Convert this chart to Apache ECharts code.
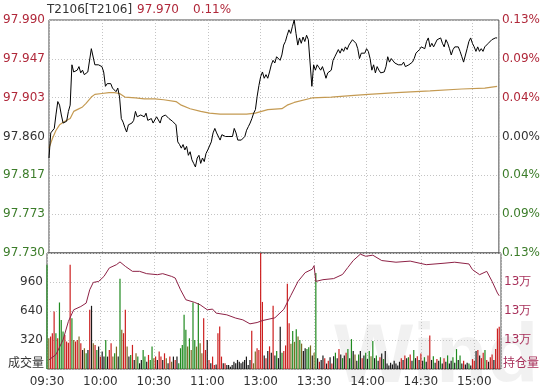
<!DOCTYPE html>
<html><head><meta charset="utf-8">
<script src="https://cdn.jsdelivr.net/npm/echarts@6/dist/echarts.min.js"></script>
<style>html,body{margin:0;padding:0;background:#fff}#c{width:543px;height:389px}</style>
</head><body><div id="c"></div>
<script>
// ---- data ----
const title = 'T2106[T2106]';
const lastPrice = '97.970';
const lastPct = '0.11%';
const timeTickLabels = ['09:30','10:00','10:30','11:00','13:00','13:30','14:00','14:30','15:00'];
const priceTickLabels = ['97.730','97.773','97.817','97.860','97.903','97.947','97.990'];
const pctTickLabels = ['0.13%','0.09%','0.04%','0.00%','0.04%','0.09%','0.13%'];
const volTickLabels = ['', '320', '640', '960', ''];
const oiTickLabels = ['', '13万', '13万', '13万', ''];

// minute price (index = trading minute from 09:30)
const prices = [
97.836,97.864,97.866,97.869,97.885,97.899,97.895,97.884,97.875,97.876,
97.877,97.888,97.895,97.940,97.932,97.934,97.934,97.938,97.931,97.934,
97.929,97.927,97.932,97.934,97.958,97.958,97.940,97.940,97.940,97.940,
97.938,97.932,97.916,97.919,97.917,97.919,97.914,97.916,97.910,97.914,
97.904,97.880,97.876,97.870,97.865,97.873,97.874,97.875,97.878,97.888,
97.882,97.883,97.884,97.884,97.882,97.886,97.878,97.879,97.880,97.875,
97.876,97.882,97.880,97.875,97.882,97.884,97.884,97.884,97.880,97.882,
97.877,97.878,97.873,97.854,97.851,97.847,97.851,97.845,97.849,97.839,
97.843,97.834,97.830,97.826,97.836,97.839,97.830,97.836,97.832,97.841,
97.845,97.843,97.854,97.864,97.869,97.864,97.865,97.856,97.862,97.860,
97.860,97.860,97.860,97.860,97.860,97.869,97.864,97.856,97.858,97.856,
97.856,97.860,97.867,97.871,97.875,97.880,97.886,97.890,97.905,97.917,
97.927,97.932,97.925,97.929,97.925,97.932,97.940,97.945,97.942,97.949,
97.947,97.945,97.951,97.962,97.966,97.973,97.979,97.975,97.983,97.990,
97.975,97.962,97.970,97.964,97.971,97.966,97.973,97.968,97.969,97.916,
97.940,97.934,97.940,97.937,97.934,97.938,97.932,97.925,97.931,97.929,
97.934,97.945,97.949,97.951,97.957,97.953,97.958,97.955,97.960,97.957,
97.962,97.960,97.968,97.970,97.964,97.958,97.947,97.953,97.955,97.953,
97.958,97.955,97.947,97.934,97.940,97.931,97.938,97.934,97.931,97.929,
97.932,97.938,97.949,97.943,97.947,97.949,97.942,97.940,97.940,97.940,
97.940,97.943,97.938,97.936,97.940,97.942,97.943,97.947,97.953,97.951,
97.957,97.960,97.962,97.958,97.966,97.970,97.960,97.964,97.960,97.960,
97.968,97.970,97.970,97.964,97.960,97.968,97.964,97.958,97.951,97.957,
97.960,97.960,97.960,97.955,97.949,97.943,97.945,97.958,97.966,97.970,
97.964,97.960,97.955,97.960,97.955,97.958,97.955,97.960,97.962,97.964,
97.966,97.968,97.969,97.970,97.970
];

// average price line
const avgMinutes = [0,2,4,6,9,12,14,16,19,21,24,26,30,34,37,40,43,49,54,60,65,72,75,80,86,91,97,104,112,117,124,132,135,139,149,160,173,181,197,216,234,247,254];
const avgPrices  = [97.847,97.858,97.867,97.873,97.877,97.880,97.888,97.890,97.893,97.897,97.904,97.907,97.908,97.909,97.909,97.908,97.904,97.903,97.902,97.902,97.901,97.899,97.895,97.891,97.888,97.886,97.885,97.885,97.885,97.886,97.890,97.891,97.895,97.898,97.903,97.904,97.906,97.907,97.909,97.911,97.913,97.914,97.916];

// minute volume (成交量) and bar colour code: R up, G down, D flat, O mixed
const volumes = [
1150,340,358,395,634,395,339,734,542,413, 376,303,290,1150,561,321,303,321,358,284,
210,229,173,210,653,697,284,266,210,247, 137,192,137,321,137,210,284,137,173,247,
137,996,432,395,653,247,137,155,266,100, 173,137,63,100,210,137,81,155,100,247,
118,137,100,192,137,100,173,118,63,137, 81,137,100,137,63,229,266,598,432,247,
339,210,734,321,247,727,284,173,561,210, 321,100,63,137,44,50,395,469,137,63,
63,44,44,26,44,81,63,100,81,63, 81,100,137,44,100,421,63,192,229,210,
1400,740,150,120,200,250,180,697,150,200, 120,466,180,200,260,940,505,280,420,300,
440,360,320,280,200,230,220,240,260,150, 180,1060,120,80,100,150,120,60,90,130,
60,140,180,120,220,160,120,150,180,220, 120,330,200,160,90,160,200,120,150,180,
110,200,140,310,120,150,90,130,170,110, 200,60,40,70,50,90,60,40,80,120,
100,150,120,130,160,90,210,120,140,100, 170,90,130,80,150,370,100,140,70,110,
90,130,60,120,80,150,60,90,130,70, 220,100,150,60,90,50,70,60,40,110,
90,200,210,150,120,180,210,100,80,130, 160,100,220,447,465
];
const volColors = (
'GORRRGRGGG'+'RRRRGORROR'+'DOGDRDORGD'+'RDDGDRROGO'+
'DGORRODGRD'+'OGDDGGDRGG'+'ORDRRDRODR'+'ODRDGGGGGO'+
'GOGGOGOORR'+'DRDRRDRRRD'+'RDDDDDDDDD'+'DDDDDROORR'+
'RRDRDRDRDG'+'DDGRRRROGO'+'GOGODDGGOD'+'OGDRDDRDRD'+
'RDGDRDGDRG'+'DGDODGDRDG'+'DGOGDGDRDG'+'DDDDDDDDDR'+
'DRDGRDGDRD'+'RDGDRRDGDR'+'DGDRDGDDGD'+'GDGDRDDGDR'+
'RDRDRRGRDR'+'RDRRR').split('');

// open interest (持仓量)
const oiMinutes = [1,5,9,12,15,19,22,24,26,29,32,35,39,41,44,48,52,56,62,65,70,72,75,78,83,86,90,93,95,101,106,110,114,118,121,128,133,137,141,145,149,150,151,155,161,166,169,172,176,179,183,188,196,204,213,223,229,237,239,243,247,250,253,254];
const oiValues  = [131125,131198,131401,131655,131817,131862,131909,132093,132194,132208,132277,132394,132439,132477,132416,132347,132347,132315,132301,132315,132277,132255,132093,131955,131918,131886,131817,131826,131771,131747,131702,131678,131623,131641,131668,131706,131823,132016,132208,132329,132377,132425,132208,132232,132247,132304,132401,132496,132584,132555,132570,132496,132473,132488,132439,132459,132473,132449,132370,132301,132347,132208,132048,132010];

// ---- chart ----
const FONT = '"DejaVu Sans"';
const RED = '#b0283a', GREEN = '#3c7d2a', GRAY = '#333', MAROON = '#a8305a';
const barColor = {R:'#cc1f1f', G:'#1f8a1f', D:'#1a1a1a', O:'#7d6a24'};
const chart = echarts.init(document.getElementById('c'), null, {renderer:'canvas'});

const dotted = {show:true, lineStyle:{color:'#c4c4c4', type:[1,2], width:1}};
const baseX = {
  type:'value', min:0, max:255, interval:30,
  axisLine:{show:false}, axisTick:{show:false}, splitLine:dotted
};
const labelColor = (v)=> { const k = priceTickLabels.indexOf(Number(v).toFixed(3)); return k>3?RED:(k===3?GRAY:GREEN); };

chart.setOption({
  animation:false,
  backgroundColor:'#fff',
  textStyle:{fontFamily:FONT},
  grid:[
    {left:47, right:42, top:20, height:233, show:true, borderColor:'#4a4a4a', borderWidth:1, backgroundColor:'transparent'},
    {left:47, right:42, top:253, height:116, show:true, borderColor:'#4a4a4a', borderWidth:1, backgroundColor:'transparent'}
  ],
  xAxis:[
    Object.assign({}, baseX, {gridIndex:0, axisLabel:{show:false}}),
    Object.assign({}, baseX, {gridIndex:1, axisLabel:{
      show:true, color:GRAY, fontSize:12, fontFamily:FONT, margin:7, showMaxLabel:false,
      formatter:(v)=> (v % 30 === 0 && timeTickLabels[v/30]) ? timeTickLabels[v/30] : ''
    }})
  ],
  yAxis:[
    {type:'value', gridIndex:0, position:'left', min:97.730, max:97.990, interval:0.26/6,
     axisLine:{show:false}, axisTick:{show:false}, splitLine:dotted,
     axisLabel:{fontSize:12, fontFamily:FONT, margin:4, showMinLabel:true, showMaxLabel:true,
       formatter:(v,i)=> priceTickLabels[i], color:labelColor}},
    {type:'value', gridIndex:0, position:'right', min:97.730, max:97.990, interval:0.26/6,
     axisLine:{show:false}, axisTick:{show:false}, splitLine:{show:false},
     axisLabel:{fontSize:12, fontFamily:FONT, margin:3, showMinLabel:true, showMaxLabel:true,
       formatter:(v,i)=> pctTickLabels[i], color:labelColor}},
    {type:'value', gridIndex:1, position:'left', min:0, max:1280, interval:320,
     axisLine:{show:false}, axisTick:{show:false}, splitLine:dotted,
     axisLabel:{fontSize:12, fontFamily:FONT, margin:4, color:GRAY,
       formatter:(v,i)=> volTickLabels[i] || ''}},
    {type:'value', gridIndex:1, position:'right', min:131000, max:132600, interval:400,
     axisLine:{show:false}, axisTick:{show:false}, splitLine:{show:false},
     axisLabel:{fontSize:12, fontFamily:FONT, margin:3, color:MAROON,
       formatter:(v,i)=> oiTickLabels[i] || ''}}
  ],
  graphic:[
    {type:'text', z:-10, style:{text:'Wind', x:334, y:317, fill:'rgba(0,0,0,0.055)', font:'bold 84px "Liberation Sans"', align:'left', verticalAlign:'top'}},
    {type:'text', style:{text:title, x:47, y:10, fill:GRAY, font:'12px '+FONT, align:'left', verticalAlign:'middle'}},
    {type:'text', style:{text:lastPrice, x:137, y:10, fill:RED, font:'12px '+FONT, align:'left', verticalAlign:'middle'}},
    {type:'text', style:{text:lastPct, x:193, y:10, fill:RED, font:'12px '+FONT, align:'left', verticalAlign:'middle'}},
    {type:'text', style:{text:'成交量', x:44, y:362, fill:GRAY, font:'12px "Noto Sans CJK SC"', align:'right', verticalAlign:'middle'}},
    {type:'text', style:{text:'持仓量', x:503, y:362, fill:MAROON, font:'12px "Noto Sans CJK SC"', align:'left', verticalAlign:'middle'}}
  ],
  series:[
    {type:'bar', xAxisIndex:1, yAxisIndex:2, barWidth:1.2, clip:true,
     data: volumes.map((v,i)=>({value:[i,v], itemStyle:{color:barColor[volColors[i]] || '#1a1a1a'}}))},
    {type:'line', xAxisIndex:1, yAxisIndex:3, symbol:'none', clip:true,
     lineStyle:{color:'#8e2246', width:1},
     data: oiMinutes.map((m,i)=>[m, oiValues[i]])},
    {type:'line', xAxisIndex:0, yAxisIndex:0, symbol:'none',
     lineStyle:{color:'#c49a52', width:1.2},
     data: avgMinutes.map((m,i)=>[m, avgPrices[i]])},
    {type:'line', xAxisIndex:0, yAxisIndex:0, symbol:'none',
     lineStyle:{color:'#000', width:1},
     data: prices.map((p,i)=>[i, p])}
  ]
});
</script></body></html>
